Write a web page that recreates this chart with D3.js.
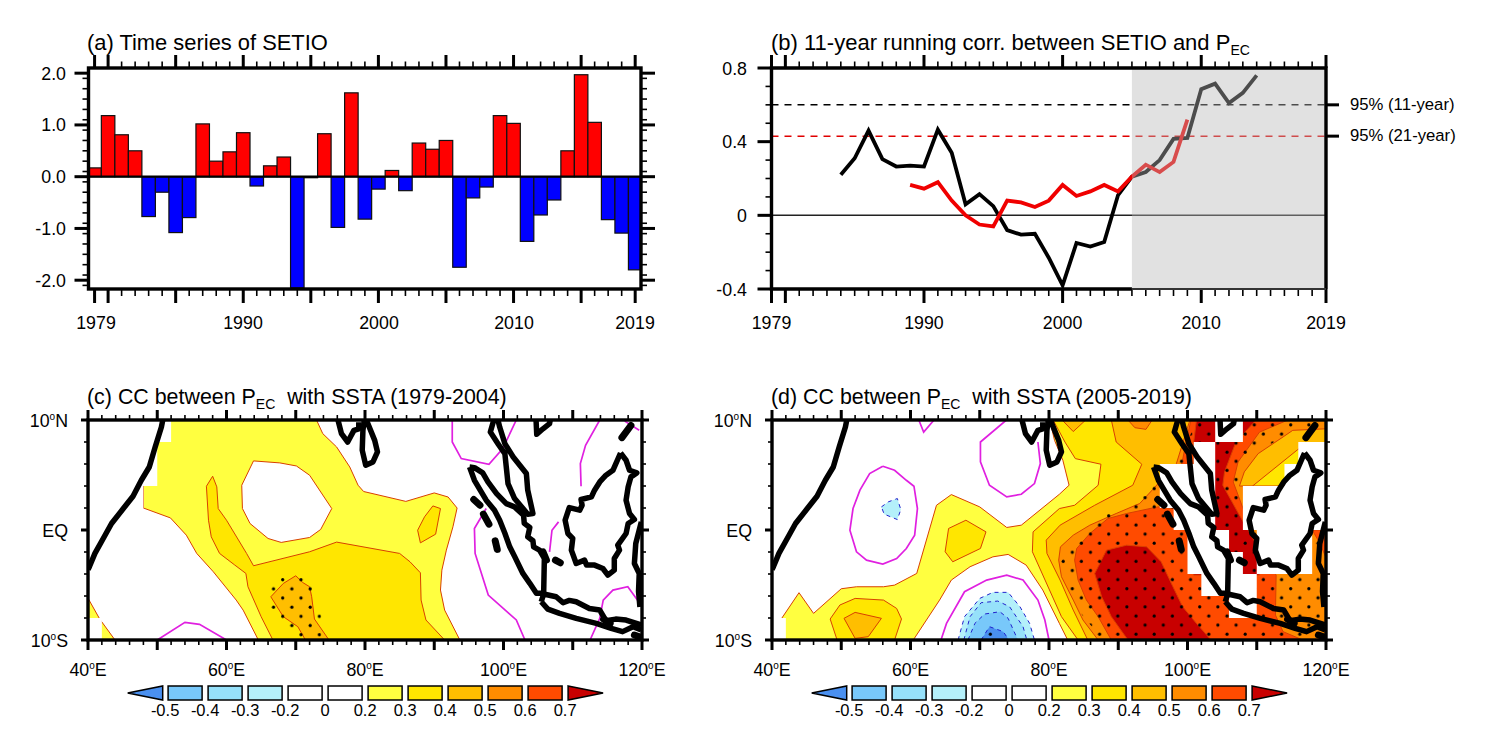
<!DOCTYPE html>
<html>
<head>
<meta charset="utf-8">
<title>SETIO and PEC</title>
<script src="https://cdn.jsdelivr.net/npm/d3@7"></script>
<style>
body { margin: 0; background: #fff; }
text { font-family: "Liberation Sans", Arial, sans-serif; fill: #000; white-space: pre; }
</style>
</head>
<body>
<div id="chart"></div>
<script>
// panel (a)
var setioYears = d3.range(1979, 2020);
var setioValues = [0.17, 1.18, 0.81, 0.5, -0.77, -0.3, -1.08, -0.79, 1.02, 0.3, 0.48, 0.85, -0.18, 0.21, 0.38,
    -2.15, -0.02, 0.83, -0.98, 1.62, -0.82, -0.24, 0.12, -0.27, 0.65, 0.53, 0.7, -1.75, -0.41, -0.2, 1.18, 1.03,
    -1.25, -0.74, -0.45, 0.5, 1.97, 1.05, -0.83, -1.09, -1.8];

// panel (b)
var corr11Years = d3.range(1984, 2015);
var corr11Values = [0.22, 0.31, 0.46, 0.305, 0.265, 0.27, 0.265, 0.465, 0.34, 0.06, 0.115, 0.05, -0.08, -0.105, -0.1,
    -0.23, -0.38, -0.15, -0.17, -0.145, 0.11, 0.21, 0.235, 0.3, 0.415, 0.42, 0.685, 0.715, 0.61, 0.665, 0.76];
var corr21Years = d3.range(1989, 2010);
var corr21Values = [0.165, 0.145, 0.18, 0.08, 0, -0.05, -0.06, 0.08, 0.07, 0.045, 0.08, 0.165, 0.105, 0.13, 0.165,
    0.13, 0.21, 0.275, 0.235, 0.29, 0.52];

// shading levels and colours
var levels = [-0.5, -0.4, -0.3, -0.2, 0, 0.2, 0.3, 0.4, 0.5, 0.6, 0.7];
var levelColors = ["#4a90f0", "#78c8fa", "#96e1fa", "#b4f0fa", "#ffffff", "#ffffff",
    "#ffff40", "#ffe600", "#ffbe00", "#ff8c00", "#ff4b00", "#c80000"];

// coastlines, lon/lat
var coastAfrica = [[50.8,10],[50.6,9.36],[49.7,7.55],[48.85,5.73],[47.7,4.52],[46.5,3.07],[45.1,1.95],[43.4,0.59],[42.2,-0.77],[41,-2.13],[40.2,-3.34],[40,-3.6]];
var coastIndia = [[76.1,10],[76.6,8.76],[77.5,8],[78.4,9.06],[79.1,9.2],[79.1,9.8]];
var coastLanka = [[80.2,10],[81.4,8.15],[81.8,7.1],[81.15,6.19],[80.1,5.89],[79.6,7.25],[79.7,9.06],[79.9,10]];
var coastMalay = [[98.6,10],[98.1,8.9],[99.2,7.85],[100.2,6.93],[100.65,4.22],[101.6,2.86],[103.5,1.44],[104.25,1.5],[103.5,3.62],[103.3,5.13],[101.4,6.64],[100.2,7.85],[99.45,9.36],[99.2,10]];
var coastSumatra = [[95.1,5.73],[95.8,5.67],[97,5.19],[97.75,4.37],[99,3.31],[100.4,2.4],[101.6,2.1],[102.9,1.35],[103,0.6],[103.8,0.23],[103.5,-0.62],[104.25,-0.98],[104.35,-1.53],[105.2,-1.83],[105.9,-2.59],[105.8,-5.76],[104.75,-5.76],[103.8,-4.85],[102.8,-3.95],[101.6,-2.4],[100.9,-1.53],[100.2,-0.3],[99.45,0.89],[98.7,1.8],[97.5,2.71],[95.8,4.52],[95.1,5.73]];
var coastJavaN = [[105.45,-6.52],[105.8,-5.82],[107.6,-6.07],[108.6,-6.61],[109.5,-6.4],[110.5,-6.52],[112.4,-7.13],[113.9,-7.28],[114.8,-8.25],[116.2,-8.1],[117.7,-8.19],[119.9,-8.64]];
var coastJavaS = [[105.45,-6.52],[106.4,-7.19],[108.1,-7.58],[110.5,-8.03],[113.4,-8.49],[115.55,-8.94],[117.2,-9.24],[118.7,-8.79],[119.9,-9.09]];
var coastBorneo = [[116.9,7],[115.8,5.43],[114.8,4.98],[113.9,4.37],[113.15,3.62],[112.7,3.01],[111.2,2.77],[111.35,2.25],[111,1.8],[109.5,2.04],[108.9,0.89],[109.3,-0.32],[110,-0.77],[109.8,-1.83],[110.5,-3.04],[111.7,-2.74],[112,-3.19],[113.15,-3.19],[114.35,-3.5],[115.07,-4.1],[116,-3.65],[116,-2.59],[116.75,-1.83],[116.5,-1.38],[117.7,-0.32],[118,0.59],[118.9,0.95],[118.2,1.5],[117.7,2.71],[118,3.92],[118.4,4.83],[119.25,5.19],[118.2,5.43],[117.7,6.34],[116.9,7]];
var coastSulawesi = [[119.9,0.74],[119.1,-1.23],[118.9,-3.04],[119.6,-3.95],[119.5,-5.6],[119.7,-7]];
var coastVietnam = [[104.7,10],[104.8,8.7],[105.7,9.2],[106.65,9.67],[106.75,10]];
var coastLines = [coastAfrica, coastIndia, coastLanka, coastMalay, coastSumatra, coastJavaN, coastJavaS, coastBorneo, coastSulawesi, coastVietnam];
var coastBlobs = [[[95.7,2.77],[96.6,2.25]], [[97.1,1.44],[97.9,0.53]], [[98.8,-0.98],[99.1,-1.77]], [[107.5,-2.74],[108.2,-2.98]],
    [[105.7,-1.98],[106.2,-2.74]], [[114.45,-8.1],[115.4,-8.5]], [[118.9,-9.55],[119.9,-9.76]], [[117.1,8.4],[118.4,9.5]]];

// panel (c) contours
var c02Main = [[40,10],[48,10],[48,2],[51.9,1.1],[54.2,-0.47],[55.7,-2.13],[58.1,-3.8],[61.4,-6.37],[62.4,-7.28],[64.6,-10],[93.7,-10],[91.5,-7.28],[90.9,-5.46],[91.1,-3.65],[91.75,-1.83],[92.7,0.29],[93.3,2],[92,3],[90,3.37],[85.9,2.6],[79.8,3.5],[79,4.07],[77.8,5.73],[75.9,7.55],[73.9,8.76],[73,10]];
var c02Corner = [[40,-6.2],[41.7,-8.1],[43.9,-10],[40,-10]];
var c02Hole = [[63.9,6.28],[67.7,6.1],[70.1,5.82],[72,4.98],[75.2,1.95],[73.6,0.05],[72,-0.68],[67.9,-1.13],[66,-0.77],[63.4,0.59],[62.3,1.95],[62.2,4.07]];
var c03Main = [[58,4.89],[58.6,3.92],[58.8,1.95],[60,0.89],[62.9,-2.13],[63.9,-3.25],[72,-1.98],[75.9,-1.1],[85,-2.13],[86.5,-2.89],[88,-3.89],[88.1,-6.37],[88.8,-8.18],[91.5,-10],[66.7,-10],[65,-7.88],[63.1,-5.16],[62.8,-3.95],[61.2,-3.19],[59,-2.13],[57.8,-0.62],[57.4,0.89],[57.1,3.98]];
var c03Small = [[89.8,2.19],[90.9,1.95],[90.2,-0.38],[88,-1.17],[87.6,-0.02],[88.6,1.2]];
var c04Main = [[70,-4.16],[71,-4.77],[72,-5.16],[72.3,-6.07],[72.7,-8.09],[74.8,-10],[71.4,-10],[70.3,-8.79],[68.2,-7.88],[66.4,-6.07],[68.2,-4.86]];
var cZeroLines = [
    [[50,-10],[54,-8.4],[56.1,-8.58],[60,-10]],
    [[92.6,10],[92.6,8],[93.9,6.49],[97.9,5.98],[99.9,7.4],[101.85,10]],
    [[97.5,1.95],[95.8,0.14],[95.9,-2.13],[97.8,-5.92],[101.85,-8.18],[103.1,-10]],
    [[113.9,10],[111.85,7.7],[111.1,6.04],[111.2,3.98]],
    [[107.95,0.74],[107,-0.02],[106.65,-1.98]],
    [[112.5,-10],[113.9,-8.03],[114.4,-6.37],[115.8,-5.46],[117.95,-5.16],[119.6,-6.6]],
    [[117.5,9.9],[119.6,9.06]]
];
var cSignificant = [[[66.25,-5.16],[67.7,-4.25],[71.15,-4.25],[72.5,-5.16],[72.5,-6.82],[73.7,-7.58],[73.7,-9.85],[70.3,-9.85],[68.9,-8.94],[67.7,-8.18],[66.25,-7.28]]];
// white cells: lat bottom, lon from, lon to
var cMaskCells = [[8,40,52],[6,40,50],[4,40,50],[2,40,48],[-10,40,42]];

// panel (d) contours
var d02Main = [[41.4,-10],[41.4,-8.03],[43.9,-5.7],[46,-7.58],[50,-5.34],[52.2,-5.16],[56.1,-5.16],[57.7,-5.01],[60.9,-3.95],[63.75,2.25],[65.9,3.22],[70,2.1],[73.9,0.23],[76,0.44],[81.5,3.25],[82.9,4.07],[82,6.34],[80.8,8.15],[80.1,10],[120,10],[120,-10],[82.7,-10],[81.5,-8.49],[79.1,-5.46],[76.7,-3.19],[74.1,-2.22],[71.9,-2.44],[68.6,-3.34],[65.9,-4.55],[64.2,-6.37],[60.4,-10]];
var d03Lobe = [[48.4,-8.09],[49.8,-6.82],[52,-6.22],[56.1,-6.37],[58,-7.13],[58.7,-8.09],[57.7,-10],[49.4,-10]];
var d04Lobe = [[50.4,-8.03],[52,-7.49],[55.8,-8.03],[53.9,-9.7],[52,-9.85]];
var d03Centre = [[65.5,0.14],[68,0.89],[70.9,-0.17],[70.1,-1.68],[66.1,-2.89],[65,-1.98]];
var d03Main = [[77.6,-1.98],[77.7,-0.17],[81.5,1.95],[83.7,2.25],[87.1,4.07],[87.5,5.98],[83.8,6.49],[82.3,8],[80.7,9.88],[80.6,10],[120,10],[120,-10],[84.2,-10],[81.8,-7.88]];
var d04Main = [[89,10],[89.7,8],[93.4,5.98],[92.1,4.07],[86.6,2.25],[81.6,0.44],[79.6,-0.92],[79.7,-2.13],[81.6,-4.55],[83.5,-7.28],[85.6,-10],[120,-10],[120,10]];
var d04Notch = [[81.9,10],[83.5,8.95],[85.3,10]];
var d05Top = [[91.4,10],[92.4,9.3],[94,9.15],[94.9,10]];
var d05Main = [[87.1,-10],[84.9,-8.18],[83.5,-6.37],[81.8,-4.25],[81.4,-2.74],[81.65,-1.53],[83.5,-0.47],[85.9,0.44],[89.7,1.5],[93.1,2.41],[95,3.7],[98.4,6.04],[100.3,9.9],[100.4,10],[120,10],[120,-10]];
var d04East = [[107.5,4],[108.2,5.28],[110.2,6.94],[113.8,8.46],[115.2,9.06],[120,9.2],[120,4]];
var d03East = [[109.4,4],[115.9,7.3],[117.1,7.8],[120,6],[120,4]];
var d06Main = [[89,-10],[87.1,-7.88],[85.4,-6.37],[84.2,-4.55],[83.7,-2.74],[84,-1.68],[85.9,-0.32],[88.5,1.04],[91.2,1.5],[95.7,2.1],[97.9,1.95],[99.8,8],[100.5,10],[114.5,10],[110.4,8.9],[107.3,6.19],[106.6,4.37],[109.9,-1.23],[112.8,-4.1],[112.7,-7.73],[113.8,-9.24],[116.65,-10]];
var d06East = [[118,0],[120,0],[120,-2.5],[119,-1.07]];
var d07South = [[87.1,-3.34],[88.3,-1.83],[91.2,-1.38],[94.1,-1.53],[96.2,-2.89],[97.9,-5.16],[99.3,-6.97],[101.3,-8.49],[103.4,-10],[91.4,-10],[89,-7.88],[87.6,-6.07],[86.6,-3.95]];
var d07North = [[101.3,10],[109.9,10],[107,8],[105.35,5.28],[105.1,4.07],[107.5,1.35],[110.4,-1.83],[110.4,-4.1],[100.9,-4.1],[100.9,8]];
var dNeg02 = [[66.9,-10],[67,-9.7],[67.8,-7.88],[70,-6.22],[71.9,-5.67],[74.1,-5.67],[75.8,-6.97],[77.2,-8.49],[77.9,-10]];
var dNeg03 = [[67.7,-10],[68.6,-7.88],[70.2,-6.61],[72.6,-6.46],[74.3,-6.97],[76.25,-8.79],[76.8,-10]];
var dNeg04 = [[68.3,-10],[69.3,-8.49],[70.7,-7.64],[72.9,-7.43],[74.1,-8.03],[75.5,-10]];
var dNeg05 = [[70.2,-10],[71.4,-8.79],[73.4,-9.24],[74.2,-10]];
var dNegSmall = [[55.8,2.1],[56.8,2.56],[58.1,2.86],[58.6,1.86],[58.1,0.95],[56.2,1.44]];
var dZeroLines = [
    [[56,5.79],[57.7,5.43],[59.4,4.52],[60.5,3.98],[61,1.95],[60.6,-0.47],[59.4,-1.68],[58,-2.59],[56,-3.1],[53.65,-2.74],[52.2,-1.98],[51.25,-0.02],[51.7,1.95],[52.7,3.62],[54.1,5.13],[56,5.79]],
    [[61.2,10],[61.9,8.9],[63.4,10]],
    [[73.85,10],[70.1,8],[70.1,6.19],[71.4,4.07],[73.9,3.01],[76,3.25],[77.9,4.22],[78.75,6.04],[78.4,8]],
    [[64.4,-10],[65.2,-8.49],[67.8,-5.61],[71,-4.55],[73.9,-4.1],[76.25,-4.55],[78.4,-6.37],[79.4,-8.18],[80,-10]]
];
var dSignificant = [
    [[81.65,-2.89],[83,-1.83],[86.85,0.59],[88.3,1.44],[92.1,2.25],[93.3,3.07],[94.8,3.98],[98.9,6.34],[101.3,10],[118.6,10],[118.6,9.5],[113.3,8.3],[109.7,6.94],[108,5.88],[107.3,4.07],[109.4,0],[120,0],[120,-10],[86.6,-10],[86.6,-9.1],[84.2,-7.28],[83,-5.46]],
    [[70.8,-9.85],[72,-9.85],[72,-9.05],[70.8,-9.05]]
];
var dMaskCells = [[8,104,108],[6,100.9,104],[6,116,120],[4,96,104],[4,114,120],[2,96,104],[2,108,120],[0,98,104],[0,108,120],
    [-2,100,106],[-2,110,118],[-4,100,108],[-4,110,118],[-6,102,110],[-8,106,110],[-10,40,42]];

var width = 1486, height = 755;
var svg = d3.select("#chart").append("svg")
    .attr("width", width)
    .attr("height", height)
    .style("display", "block");
var defs = svg.append("defs");

var colour = d3.scaleThreshold().domain(levels).range(levelColors);
var topY = 68, bottomY = 289, mapTop = 420, mapBottom = 640;
var tickFont = 17.8;

function hTicks(values, scale, y, dir, len, w) {
    svg.append("g").selectAll("line").data(values).enter().append("line")
        .attr("x1", function(d) { return scale(d); })
        .attr("x2", function(d) { return scale(d); })
        .attr("y1", y)
        .attr("y2", y + dir * len)
        .attr("stroke", "#000")
        .attr("stroke-width", w);
}

function vTicks(values, scale, x, dir, len, w) {
    svg.append("g").selectAll("line").data(values).enter().append("line")
        .attr("y1", function(d) { return scale(d); })
        .attr("y2", function(d) { return scale(d); })
        .attr("x1", x)
        .attr("x2", x + dir * len)
        .attr("stroke", "#000")
        .attr("stroke-width", w);
}

function frame(x0, x1, y0, y1) {
    svg.append("rect")
        .attr("x", x0).attr("y", y0)
        .attr("width", x1 - x0).attr("height", y1 - y0)
        .attr("fill", "none")
        .attr("stroke", "#000")
        .attr("stroke-width", 3.4);
}

function title(x, y, size, parts) {
    var t = svg.append("text").attr("x", x).attr("y", y).attr("font-size", size);
    t.append("tspan").text(parts[0]);
    if (parts.length > 1) {
        t.append("tspan").attr("font-size", 14).attr("dy", 5).text("EC");
        t.append("tspan").attr("dy", -5).text(parts[1]);
    }
}

function label(x, y, text, anchor, size) {
    svg.append("text")
        .attr("x", x).attr("y", y)
        .attr("text-anchor", anchor)
        .attr("font-size", size || tickFont)
        .text(text);
}

// NCL style degree labels, small raised o
function degLabel(x, y, number, letter, anchor) {
    var t = svg.append("text")
        .attr("x", x).attr("y", y)
        .attr("text-anchor", anchor)
        .attr("font-size", tickFont);
    t.append("tspan").text(number);
    t.append("tspan").attr("font-size", 10).attr("dy", -7).text("o");
    t.append("tspan").attr("dy", 7).text(letter);
}

// ---------- panel (a) ----------
function drawBars() {
    var x = d3.scaleLinear().domain([1978.55, 2019.43]).range([88.5, 641]);
    var y = d3.scaleLinear().domain([2.1, -2.17]).range([topY, bottomY]);

    defs.append("clipPath").attr("id", "clip-a").append("rect")
        .attr("x", 88.5).attr("y", topY).attr("width", 552.5).attr("height", bottomY - topY);

    svg.append("g").attr("clip-path", "url(#clip-a)")
        .selectAll("rect").data(setioValues).enter().append("rect")
        .attr("x", function(d, i) { return x(setioYears[i] - 0.5); })
        .attr("width", x(1) - x(0))
        .attr("y", function(d) { return y(Math.max(d, 0)); })
        .attr("height", function(d) { return Math.abs(y(d) - y(0)); })
        .attr("fill", function(d) { return d > 0 ? "#ff0000" : "#0000ff"; })
        .attr("stroke", "#111")
        .attr("stroke-width", 1.2);

    svg.append("line")
        .attr("x1", 88.5).attr("x2", 641)
        .attr("y1", y(0)).attr("y2", y(0))
        .attr("stroke", "#000").attr("stroke-width", 2.2);

    var majorX = [1979, 1980, 1985, 1990, 1995, 2000, 2005, 2010, 2015, 2019];
    var minorX = setioYears;
    var majorY = [2, 1, 0, -1, -2];
    var minorY = d3.range(-21, 21, 2).map(function(d) { return d / 10; });

    hTicks(minorX, x, topY, -1, 6.5, 1.6);
    hTicks(minorX, x, bottomY, 1, 7, 1.6);
    hTicks(majorX, x, topY, -1, 13, 3);
    hTicks(majorX, x, bottomY, 1, 14, 3);
    vTicks(minorY, y, 88.5, -1, 6, 1.6);
    vTicks(minorY, y, 641, 1, 6, 1.6);
    vTicks(majorY, y, 88.5, -1, 14, 3);
    vTicks(majorY, y, 641, 1, 14, 3);
    frame(88.5, 641, topY, bottomY);

    ["2.0", "1.0", "0.0", "-1.0", "-2.0"].forEach(function(d, i) {
        label(66, y(majorY[i]) + 6.5, d, "end");
    });
    [[1979, 96], [1990, 243], [2000, 379], [2010, 514], [2019, 635]].forEach(function(d) {
        label(d[1], 329, d[0], "middle");
    });
    title(87, 50, 21.9, ["(a) Time series of SETIO"]);
}

// ---------- panel (b) ----------
function drawLines() {
    var x = d3.scaleLinear().domain([1979, 2019]).range([771.5, 1326]);
    var y = d3.scaleLinear().domain([0.8, -0.4]).range([topY, bottomY]);
    var line = d3.line()
        .x(function(d) { return x(d[0]); })
        .y(function(d) { return y(d[1]); });

    [[0.6, "#000"], [0.43, "#e00000"]].forEach(function(d) {
        svg.append("line")
            .attr("x1", x(1979)).attr("x2", x(2019))
            .attr("y1", y(d[0])).attr("y2", y(d[0]))
            .attr("stroke", d[1]).attr("stroke-width", 1.5)
            .attr("stroke-dasharray", "7,6");
    });
    svg.append("line")
        .attr("x1", x(1979)).attr("x2", x(2019))
        .attr("y1", y(0)).attr("y2", y(0))
        .attr("stroke", "#222").attr("stroke-width", 1.5);

    svg.append("path")
        .attr("d", line(corr11Years.map(function(d, i) { return [d, corr11Values[i]]; })))
        .attr("fill", "none").attr("stroke", "#000").attr("stroke-width", 3.8);
    svg.append("path")
        .attr("d", line(corr21Years.map(function(d, i) { return [d, corr21Values[i]]; })))
        .attr("fill", "none").attr("stroke", "#f00000").attr("stroke-width", 3.8);

    // the period after 2005 is greyed over the curves
    svg.append("rect")
        .attr("x", x(2005)).attr("y", topY)
        .attr("width", x(2019) - x(2005)).attr("height", bottomY - topY)
        .attr("fill", "#b8b8b8").attr("fill-opacity", 0.415);

    var majorX = [1979, 1980, 1990, 2000, 2010, 2019];
    var minorX = d3.range(1979, 2020);
    var majorY = [0.8, 0.4, 0, -0.4];
    var minorY = d3.range(-4, 9).map(function(d) { return d / 10; });

    hTicks(minorX, x, topY, -1, 6.5, 1.6);
    hTicks(minorX, x, bottomY, 1, 7, 1.6);
    hTicks(majorX, x, topY, -1, 13, 3);
    hTicks(majorX, x, bottomY, 1, 14, 3);
    vTicks(minorY, y, 771.5, -1, 6, 1.6);
    vTicks(majorY, y, 771.5, -1, 14, 3);
    vTicks([0.6, 0.43], y, 1326, 1, 13, 3);

    svg.append("path")
        .attr("d", "M" + x(2005) + "," + bottomY + "H" + x(1979) + "V" + topY + "H" + x(2019) + "V" + bottomY)
        .attr("fill", "none").attr("stroke", "#000").attr("stroke-width", 3.4);
    svg.append("line")
        .attr("x1", x(2005)).attr("x2", x(2019))
        .attr("y1", bottomY).attr("y2", bottomY)
        .attr("stroke", "#333").attr("stroke-width", 1.8);

    ["0.8", "0.4", "0", "-0.4"].forEach(function(d, i) {
        label(747, y(majorY[i]) + 6.5, d, "end");
    });
    [1979, 1990, 2000, 2010, 2019].forEach(function(d) {
        label(x(d), 329, d, "middle");
    });
    label(1350, 110, "95% (11-year)", "start", 16.7);
    label(1350, 141, "95% (21-year)", "start", 16.7);
    title(771, 50, 22, ["(b) 11-year running corr. between SETIO and P", ""]);
}

// ---------- panels (c) and (d) ----------
function drawMap(id, x0, layers, zeroLines, significant, maskCells, dotOrigin, dotSize, titleParts) {
    var x1 = x0 + 554;
    var lon = d3.scaleLinear().domain([40, 120]).range([x0, x1]);
    var lat = d3.scaleLinear().domain([10, -10]).range([mapTop, mapBottom]);
    var line = d3.line()
        .x(function(d) { return lon(d[0]); })
        .y(function(d) { return lat(d[1]); });

    defs.append("clipPath").attr("id", "clip-" + id).append("rect")
        .attr("x", x0).attr("y", mapTop).attr("width", x1 - x0).attr("height", mapBottom - mapTop);

    var pattern = defs.append("pattern").attr("id", "dots-" + id)
        .attr("patternUnits", "userSpaceOnUse")
        .attr("x", dotOrigin[0] - dotSize / 4).attr("y", dotOrigin[1] - dotSize / 4)
        .attr("width", dotSize).attr("height", dotSize);
    [0.25, 0.75].forEach(function(f) {
        pattern.append("circle")
            .attr("cx", dotSize * f).attr("cy", dotSize * f)
            .attr("r", 1.6).attr("fill", "#000");
    });

    var g = svg.append("g").attr("clip-path", "url(#clip-" + id + ")");

    // filled contours, lowest level first
    g.selectAll("path.fill").data(layers).enter().append("path")
        .attr("class", "fill")
        .attr("d", function(d) { return line(d.points) + "Z"; })
        .attr("fill", function(d) { return colour(d.level < 0 ? d.level - 0.01 : d.level); })
        .attr("stroke", function(d) { return d.level < 0 ? "#2222cc" : "#d84000"; })
        .attr("stroke-width", 1)
        .attr("stroke-dasharray", function(d) { return d.level < 0 ? "4,4" : null; });

    g.selectAll("path.zero").data(zeroLines).enter().append("path")
        .attr("class", "zero")
        .attr("d", line)
        .attr("fill", "none")
        .attr("stroke", "#e020e0")
        .attr("stroke-width", 1.7);

    g.selectAll("path.sig").data(significant).enter().append("path")
        .attr("class", "sig")
        .attr("d", function(d) { return line(d) + "Z"; })
        .attr("fill", "url(#dots-" + id + ")");

    // grid cells left blank
    g.selectAll("rect.mask").data(maskCells).enter().append("rect")
        .attr("class", "mask")
        .attr("x", function(d) { return lon(d[1]); })
        .attr("width", function(d) { return lon(d[2]) - lon(d[1]); })
        .attr("y", function(d) { return lat(d[0] + 2); })
        .attr("height", lat(0) - lat(2))
        .attr("fill", "#fff");

    g.selectAll("path.coast").data(coastLines).enter().append("path")
        .attr("class", "coast")
        .attr("d", line)
        .attr("fill", "none")
        .attr("stroke", "#000")
        .attr("stroke-width", 5.5)
        .attr("stroke-linejoin", "round");
    g.selectAll("path.blob").data(coastBlobs).enter().append("path")
        .attr("class", "blob")
        .attr("d", line)
        .attr("fill", "none")
        .attr("stroke", "#000")
        .attr("stroke-width", 7)
        .attr("stroke-linecap", "round");

    var majorX = d3.range(40, 121, 10);
    var minorX = d3.range(40, 121, 2);
    var majorY = [10, 0, -10];
    var minorY = d3.range(-10, 11, 2);

    hTicks(minorX, lon, mapTop, -1, 5, 1.6);
    hTicks(minorX, lon, mapBottom, 1, 5, 1.6);
    hTicks(majorX, lon, mapTop, -1, 10, 3);
    hTicks(majorX, lon, mapBottom, 1, 10, 3);
    vTicks(minorY, lat, x0, -1, 4, 1.6);
    vTicks(minorY, lat, x1, 1, 4, 1.6);
    vTicks(majorY, lat, x0, -1, 7, 3);
    vTicks(majorY, lat, x1, 1, 7, 3);
    frame(x0, x1, mapTop, mapBottom);

    [40, 60, 80, 100, 120].forEach(function(d) {
        degLabel(lon(d), 676, d, "E", "middle");
    });
    degLabel(x0 - 20, lat(10) + 6.5, 10, "N", "end");
    label(x0 - 20, lat(0) + 6.5, "EQ", "end");
    degLabel(x0 - 20, lat(-10) + 6.5, 10, "S", "end");

    title(x0 - 1, 404, 21.4, titleParts);
    drawColorbar(x0 + 39.7);
}

// labelbar, tip of the left triangle at x
function drawColorbar(x) {
    var boxW = 34, step = 40, triW = 35, yTop = 686, yBottom = 700;
    var first = x + triW + 5.4;
    var scale = d3.scaleLinear().domain([0, 1]).range([first, first + step]);
    var boxes = levelColors.slice(1, levelColors.length - 1);

    svg.append("g").selectAll("rect").data(boxes).enter().append("rect")
        .attr("x", function(d, i) { return scale(i); })
        .attr("y", yTop)
        .attr("width", boxW)
        .attr("height", yBottom - yTop)
        .attr("fill", function(d) { return d; })
        .attr("stroke", "#000")
        .attr("stroke-width", 1.5);

    var rightBase = scale(boxes.length);
    svg.append("polygon")
        .attr("points", [[x, (yTop + yBottom) / 2], [x + triW, yTop], [x + triW, yBottom]].join(" "))
        .attr("fill", levelColors[0]).attr("stroke", "#000").attr("stroke-width", 1.5);
    svg.append("polygon")
        .attr("points", [[rightBase, yTop], [rightBase + triW, (yTop + yBottom) / 2], [rightBase, yBottom]].join(" "))
        .attr("fill", levelColors[levelColors.length - 1]).attr("stroke", "#000").attr("stroke-width", 1.5);

    levels.forEach(function(d, i) {
        label(scale(i) - 3, 716, d, "middle", 16.5);
    });
}

function layer(level, points) {
    return { level: level, points: points };
}

drawBars();
drawLines();

drawMap("c", 88, [
    layer(0.2, c02Main), layer(0.2, c02Corner), layer(0, c02Hole),
    layer(0.3, c03Main), layer(0.3, c03Small), layer(0.4, c04Main)
], cZeroLines, cSignificant, cMaskCells, [282.7, 579.7], 18.33,
    ["(c) CC between P", "  with SSTA (1979-2004)"]);

drawMap("d", 772, [
    layer(0.2, d02Main), layer(0.3, d03Lobe), layer(0.4, d04Lobe), layer(0.3, d03Centre),
    layer(0.3, d03Main), layer(0.4, d04Main), layer(0.4, d04Notch), layer(0.5, d05Top), layer(0.5, d05Main),
    layer(0.4, d04East), layer(0.3, d03East), layer(0.6, d06Main), layer(0.6, d06East),
    layer(0.7, d07South), layer(0.7, d07North),
    layer(-0.2, dNeg02), layer(-0.3, dNeg03), layer(-0.4, dNeg04), layer(-0.5, dNeg05), layer(-0.2, dNegSmall)
], dZeroLines, dSignificant, dMaskCells, [1072.3, 552.3], 18.2,
    ["(d) CC between P", "  with SSTA (2005-2019)"]);
</script>
</body>
</html>
